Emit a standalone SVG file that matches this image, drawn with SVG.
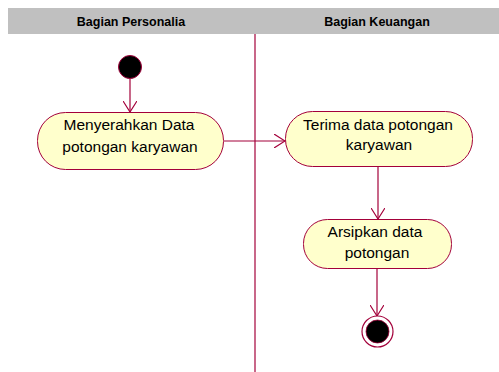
<svg xmlns="http://www.w3.org/2000/svg" width="499" height="372" viewBox="0 0 499 372">
  <style>
    .lane-title { font-family: "Liberation Sans", Arial, sans-serif; font-size: 12.5px; font-weight: bold; fill: #000; text-anchor: middle; }
    .act { fill: #ffffcc; stroke: #a3003a; stroke-width: 1; }
    .label { font-family: "Liberation Sans", Arial, sans-serif; font-size: 15.5px; fill: #000; text-anchor: middle; }
    .flow { fill: none; stroke: #a3003a; stroke-width: 1.2; }
    .head { fill: none; stroke: #a3003a; stroke-width: 1.2; }
  </style>
  <defs>
    <marker id="open" viewBox="0 0 12 14" refX="11" refY="7" markerWidth="12" markerHeight="14" markerUnits="userSpaceOnUse" orient="auto">
      <path d="M0,0 L11,7 L0,14" class="head"/>
    </marker>
  </defs>
  <rect width="499" height="372" fill="#ffffff"/>

  <!-- swimlane header -->
  <g id="lanes">
    <rect x="8" y="8" width="491" height="26" fill="#c0c0c0"/>
    <text class="lane-title" x="131" y="26">Bagian Personalia</text>
    <text class="lane-title" x="377" y="26">Bagian Keuangan</text>
    <line x1="255" y1="34" x2="255" y2="372" stroke="#a3003a" stroke-width="1.2"/>
  </g>

  <g id="connectors">
    <line class="flow" x1="130" y1="79" x2="130" y2="112" marker-end="url(#open)"/>
    <line class="flow" x1="224" y1="141" x2="285" y2="141" marker-end="url(#open)"/>
    <line class="flow" x1="378" y1="167" x2="378" y2="219" marker-end="url(#open)"/>
    <line class="flow" x1="377" y1="269" x2="377" y2="316" marker-end="url(#open)"/>
  </g>

  <g id="start">
    <circle cx="130" cy="67" r="11.5" fill="#000" stroke="#a3003a" stroke-width="1"/>
  </g>

  <g id="menyerahkan">
    <rect class="act" x="37.5" y="112.5" width="186" height="57" rx="28" ry="28"/>
    <text class="label" x="129" y="130">Menyerahkan Data</text>
    <text class="label" x="130" y="152">potongan karyawan</text>
  </g>

  <g id="terima">
    <rect class="act" x="285.5" y="111.5" width="187" height="55" rx="27" ry="27"/>
    <text class="label" x="378" y="130">Terima data potongan</text>
    <text class="label" x="379" y="150">karyawan</text>
  </g>

  <g id="arsipkan">
    <rect class="act" x="303.5" y="219.5" width="148" height="49" rx="24" ry="24"/>
    <text class="label" x="375" y="237">Arsipkan data</text>
    <text class="label" x="377" y="258">potongan</text>
  </g>

  <g id="end">
    <circle cx="377.5" cy="331.5" r="15.5" fill="#ffffff" stroke="#a3003a" stroke-width="1.2"/>
    <circle cx="377.5" cy="331.5" r="11.5" fill="#000" stroke="#a3003a" stroke-width="0.8"/>
  </g>
</svg>
